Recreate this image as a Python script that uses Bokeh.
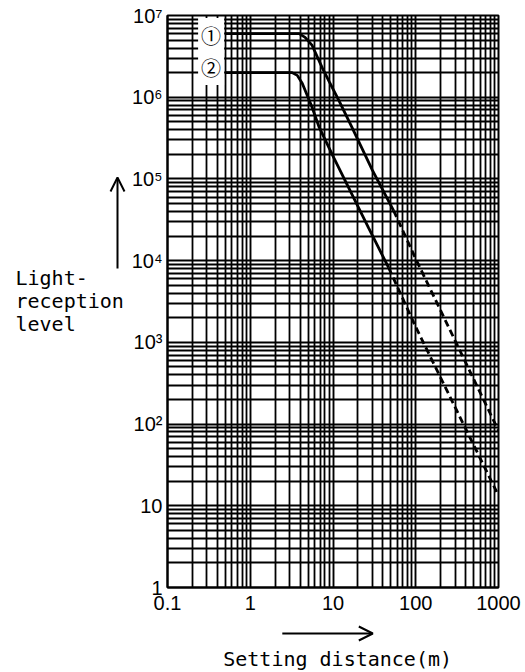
from bokeh.plotting import figure
from bokeh.layouts import row, column
from bokeh.models import Range1d, FixedTicker, Label, Arrow, OpenHead
from bokeh.core.properties import value
from bokeh.embed import file_html
from bokeh.resources import INLINE

# ---- data ----
x_ticks = [0.1, 1, 10, 100, 1000]
x_tick_labels = ["0.1", "1", "10", "100", "1000"]
y_ticks = [1, 10, 100, 1000, 10000, 100000, 1000000, 10000000]
y_tick_labels = ["1", "10", "10²", "10³", "10⁴", "10⁵", "10⁶", "10⁷"]

c1_x = [0.5, 3.9, 4.6, 5.6, 7.4, 9, 11.8, 16.9, 30, 54]
c1_y = [6.0e6, 6.0e6, 5.4e6, 4.3e6, 2.3e6, 1.55e6, 9.1e5, 4.3e5, 1.27e5, 4.1e4]
c1_dx = [54, 100, 1000]
c1_dy = [4.1e4, 1.05e4, 83]

c2_x = [0.5, 3.2, 3.7, 4.26, 5, 5.6, 6.8, 10, 27, 47]
c2_y = [2.0e6, 2.0e6, 1.85e6, 1.47e6, 9.9e5, 7.5e5, 4.3e5, 1.9e5, 2.5e4, 8.2e3]
c2_dx = [47, 100, 1000]
c2_dy = [8.2e3, 1.54e3, 13.3]

series_labels = ["①", "②"]
x_title = "Setting distance(m)"
y_title = ["Light-", "reception", "level"]

# ---- layout (page pixels) ----
TOTAL_W, TOTAL_H = 523, 670
LEFT_W = 128                    # strip holding the y title
FL, FT, FW, FH = 164, 15, 334, 572
CHART_W = TOTAL_W - LEFT_W
CHART_H = 623
BOTTOM_H = TOTAL_H - CHART_H

def xd(px):
    return 10 ** (-1 + (px - FL) / (FW / 4))
def yd(py):
    return 10 ** (7 - (py - FT) / (FH / 7))

# ---- main chart ----
p = figure(width=CHART_W, height=CHART_H, x_axis_type="log", y_axis_type="log",
           x_range=Range1d(0.1, 1000), y_range=Range1d(1, 1e7),
           output_backend="svg", toolbar_location=None,
           min_border_left=FL - LEFT_W, min_border_right=CHART_W - (FL - LEFT_W) - FW,
           min_border_top=FT, min_border_bottom=CHART_H - FT - FH)

x_minor = [m * 10 ** k for k in range(-1, 3) for m in range(2, 10)]
y_minor = [m * 10 ** k for k in range(0, 7) for m in range(2, 10)]
p.xaxis.ticker = FixedTicker(ticks=x_ticks, minor_ticks=x_minor)
p.yaxis.ticker = FixedTicker(ticks=y_ticks, minor_ticks=y_minor)
p.xaxis.major_label_overrides = {t: l for t, l in zip(x_ticks, x_tick_labels)}
p.yaxis.major_label_overrides = {t: l for t, l in zip(y_ticks, y_tick_labels)}

for ax in (p.xaxis, p.yaxis):
    ax.major_tick_in = 0
    ax.major_tick_out = 0
    ax.minor_tick_in = 0
    ax.minor_tick_out = 0
    ax.axis_line_color = "black"
    ax.axis_line_width = 2
    ax.major_label_text_font = "Liberation Sans"
    ax.major_label_text_font_size = "20px"
    ax.major_label_text_color = "black"
p.xaxis.major_label_standoff = 8
p.yaxis.major_label_standoff = 5

for g in (p.xgrid, p.ygrid):
    g.grid_line_color = "#000000"
    g.grid_line_width = 1.9
    g.grid_line_alpha = 1
    g.minor_grid_line_color = "#000000"
    g.minor_grid_line_width = 1.8
    g.minor_grid_line_alpha = 1

p.outline_line_color = "black"
p.outline_line_width = 2
p.background_fill_color = "white"

p.line(c1_x, c1_y, line_color="black", line_width=2.8)
p.line(c1_dx, c1_dy, line_color="black", line_width=2.8, line_dash="7 4")
p.line(c2_x, c2_y, line_color="black", line_width=2.8)
p.line(c2_dx, c2_dy, line_color="black", line_width=2.8, line_dash="7 4")

for lab, py in zip(series_labels, [35, 67]):
    p.add_layout(Label(x=xd(208), y=yd(py), text=lab, text_align="center",
                       text_baseline="middle", text_font="Noto Sans CJK JP",
                       text_font_size="20px", text_color="black",
                       background_fill_color="white", padding=3))

def blank(w, h):
    f = figure(width=w, height=h, x_range=Range1d(0, w), y_range=Range1d(h, 0),
               output_backend="svg", toolbar_location=None,
               x_axis_location=None, y_axis_location=None,
               min_border=0, min_border_left=0, min_border_right=0,
               min_border_top=0, min_border_bottom=0)
    f.grid.visible = False
    f.outline_line_color = None
    f.background_fill_color = "white"
    f.border_fill_color = "white"
    return f

# ---- left strip: y title + upward arrow ----
left = blank(LEFT_W, TOTAL_H)
left.text(x=[15] * len(y_title), y=[277, 300, 323], text=y_title,
          text_font=value("DejaVu Sans Mono"), text_font_size="20px",
          text_color="black", text_align="left", text_baseline="middle")
left.add_layout(Arrow(x_start=117, y_start=268, x_end=117, y_end=177,
                      line_width=2, end=OpenHead(size=14, line_width=2)))

# ---- bottom strip: right arrow + x title ----
bottom = blank(CHART_W, BOTTOM_H)
off_y = CHART_H
bottom.text(x=[FL + FW / 2 - LEFT_W], y=[658 - off_y], text=[x_title],
            text_font=value("DejaVu Sans Mono"), text_font_size="20px",
            text_color="black", text_align="center", text_baseline="middle")
bottom.add_layout(Arrow(x_start=265 - LEFT_W, y_start=633 - off_y,
                        x_end=373 - LEFT_W, y_end=633 - off_y,
                        line_width=2, end=OpenHead(size=14, line_width=2)))

layout = row(left, column(p, bottom))
open("out.html", "w").write(file_html(layout, INLINE))
